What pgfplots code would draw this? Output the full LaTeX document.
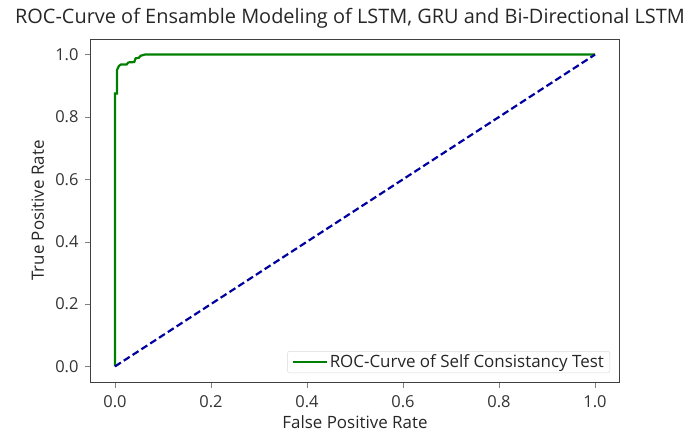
\documentclass[border=0pt]{standalone}
\usepackage{pgfplots}
\pgfplotsset{compat=1.18}
\usepackage{fontspec}
\setmainfont{Open Sans}
\definecolor{mplgreen}{RGB}{0,128,0}
\definecolor{mplnavy}{RGB}{0,0,160}
\begin{document}
\begin{tikzpicture}
\begin{axis}[
  at={(0,0)}, anchor=south west,
  scale only axis, width=528bp, height=343bp,
  xmin=-0.05, xmax=1.05, ymin=-0.05, ymax=1.05,
  xtick={0,0.2,0.4,0.6,0.8,1.0}, ytick={0,0.2,0.4,0.6,0.8,1.0},
  xticklabel style={anchor=base, yshift=-19bp, /pgf/number format/.cd,fixed,fixed zerofill,precision=1},
  yticklabel style={xshift=-3bp, /pgf/number format/.cd,fixed,fixed zerofill,precision=1},
  /pgf/number format/assume math mode=true,
  tick align=outside, tick pos=left,
  major tick length=6bp,
  tick label style={font=\fontsize{16.5}{18}\selectfont, text=black!80},
  label style={font=\fontsize{17}{19}\selectfont, text=black!85},
  xlabel={False Positive Rate}, ylabel={True Positive Rate},
  xlabel style={at={(axis description cs:0.5,0)}, anchor=base, yshift=-46bp},
  ylabel style={at={(axis description cs:0,0.5)}, anchor=base, yshift=47bp},
  title={ROC-Curve of Ensamble Modeling of LSTM, GRU and Bi-Directional LSTM},
  title style={font=\fontsize{20}{22}\selectfont, text=black!85, at={(axis description cs:0.5,1)}, anchor=base, yshift=10bp, xshift=-5bp},
  axis line style={black!75, line width=1bp},
  legend style={at={(1,0)}, anchor=south east, xshift=-9bp, yshift=9bp,
    font=\fontsize{17}{18}\selectfont, draw=black!15, rounded corners=2bp, text=black!85,
    inner xsep=4bp, inner ysep=1.5bp},
  legend image code/.code={\draw[mplgreen, line width=2.2bp] (0bp,0bp) -- (34bp,0bp);},
  legend cell align=left,
]
\addplot[mplgreen, line width=2.2bp] coordinates {
(0,0) (0,0.875) (0.004,0.875) (0.004,0.95) (0.008,0.963) (0.012,0.968)
(0.024,0.968) (0.028,0.975) (0.04,0.976) (0.043,0.988) (0.05,0.99)
(0.053,0.996) (0.062,1.0) (1,1)};
\addlegendentry{ROC-Curve of Self Consistancy Test}
\addplot[mplnavy, line width=2.2bp, dash pattern=on 7bp off 3.5bp, forget plot] coordinates {(0,0) (1,1)};
\end{axis}
\path[use as bounding box] (-91bp,-49bp) rectangle (606bp,382bp);
\end{tikzpicture}
\end{document}
